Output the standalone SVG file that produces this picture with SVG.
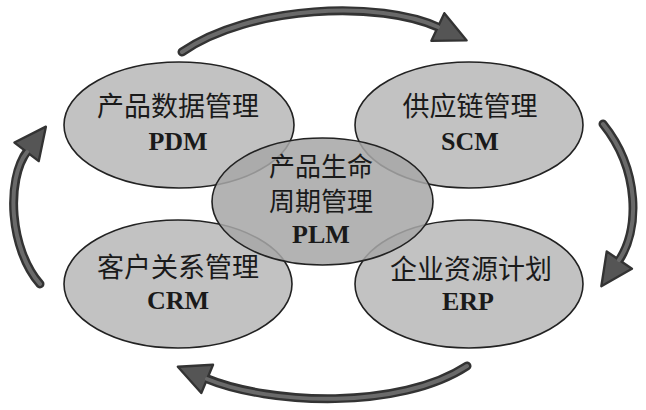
<svg xmlns="http://www.w3.org/2000/svg" width="646" height="410" viewBox="0 0 646 410">
<style>
.node{fill:#c2c2c2;stroke:#222;stroke-width:1.6}
.center{fill:#a6a6a6;fill-opacity:0.86;stroke:#222;stroke-width:1.6}
.cn{font-family:"Noto Sans CJK SC","Noto Sans CJK JP",sans-serif;font-size:26px;fill:#1a1a1a;text-anchor:middle}
.en{font-family:"Liberation Serif",serif;font-size:26px;font-weight:bold;fill:#1a1a1a;text-anchor:middle}
.arrOut{fill:none;stroke:#333;stroke-width:9;stroke-linecap:round}
.arrIn{fill:none;stroke:#6a6a6a;stroke-width:4;stroke-linecap:round}
</style>
<defs>
<marker id="head" markerUnits="userSpaceOnUse" markerWidth="40" markerHeight="40" viewBox="-2 -16 34 32" refX="2" refY="0" orient="auto">
<path d="M0,-13 L27,0 L0,13 Z" fill="#555" stroke="#333" stroke-width="2" stroke-linejoin="round"/>
</marker>
</defs>
<g id="connectors">
<path class="arrOut" d="M182,52 C250,5 380,0 440,28" marker-end="url(#head)"/>
<path class="arrIn" d="M182,52 C250,5 380,0 438,27"/>
<path class="arrOut" d="M603,124 C640,170 640,230 618,262" marker-end="url(#head)"/>
<path class="arrIn" d="M603,124 C640,170 640,230 619,260"/>
<path class="arrOut" d="M467,366 C400,410 270,405 205,378" marker-end="url(#head)"/>
<path class="arrIn" d="M467,366 C400,410 270,405 207,379"/>
<path class="arrOut" d="M40,284 C10,250 5,180 28,150" marker-end="url(#head)"/>
<path class="arrIn" d="M40,284 C10,250 5,180 27,152"/>
</g>
<g id="pdm">
<ellipse class="node" cx="179" cy="125" rx="115" ry="63"/>
<text class="cn" x="178" y="116" style="font-size:27px">产品数据管理</text>
<text class="en" x="178" y="150">PDM</text>
</g>
<g id="scm">
<ellipse class="node" cx="469" cy="125" rx="114" ry="63"/>
<text class="cn" x="470" y="116" style="font-size:27px">供应链管理</text>
<text class="en" x="470" y="150">SCM</text>
</g>
<g id="crm">
<ellipse class="node" cx="178" cy="284" rx="114" ry="64"/>
<text class="cn" x="178" y="277" style="font-size:27px">客户关系管理</text>
<text class="en" x="178" y="309">CRM</text>
</g>
<g id="erp">
<ellipse class="node" cx="469" cy="284" rx="114" ry="64"/>
<text class="cn" x="471" y="279" style="font-size:27px">企业资源计划</text>
<text class="en" x="468" y="310">ERP</text>
</g>
<g id="plm">
<ellipse class="center" cx="322.5" cy="201.5" rx="110.5" ry="63.5"/>
<text class="cn" x="321" y="176">产品生命</text>
<text class="cn" x="321" y="211">周期管理</text>
<text class="en" x="321" y="243">PLM</text>
</g>
</svg>
